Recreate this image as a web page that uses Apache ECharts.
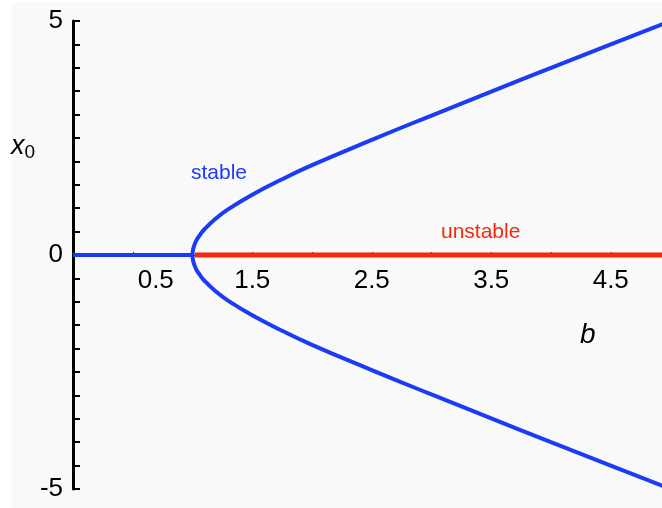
<!DOCTYPE html>
<html>
<head>
<meta charset="utf-8">
<script src="https://cdn.jsdelivr.net/npm/echarts@6/dist/echarts.min.js"></script>
<style>
  html, body { margin: 0; padding: 0; background: #ffffff; }
  #chart { width: 662px; height: 508px; }
</style>
</head>
<body>
<div id="chart"></div>
<script>
// Pitchfork bifurcation: fixed point x0 versus parameter b
const bValues      = [1, 1.003, 1.01, 1.03, 1.06, 1.1, 1.2, 1.3, 1.5, 1.75, 2, 2.5, 3, 3.5, 4, 4.5, 5];
const branchValues = [0, 0.09, 0.17, 0.3, 0.42, 0.55, 0.79, 0.98, 1.29, 1.62, 1.92, 2.46, 2.98, 3.49, 4.0, 4.5, 5.0];
const stableZero   = [[0, 0], [1, 0]];
const unstableZero = [[1.02, 0], [5, 0]];
const xTickLabels  = ['0.5', '1.5', '2.5', '3.5', '4.5'];
const yTickLabels  = ['-5', '0', '5'];

const BLUE = '#1c3bf4';
const RED = '#f42a0c';
const FONT = 'Liberation Sans, Arial, sans-serif';

// One continuous path: lower branch -> vertex -> upper branch
const branchPath = [];
for (let i = bValues.length - 1; i > 0; i--) branchPath.push([bValues[i], -branchValues[i]]);
for (let i = 0; i < bValues.length; i++) branchPath.push([bValues[i], branchValues[i]]);

const chart = echarts.init(document.getElementById('chart'));

function fmtNum(v) {
  return String(Math.round(v * 10) / 10);
}

// plot box: y from 5 (top) to -5 (bottom); x axis sits on x0 = 0
const GRID_TOP = 21, GRID_H = 468;

chart.setOption({
  backgroundColor: '#ffffff',
  animation: false,
  grid: { left: 73, top: GRID_TOP, width: 597.5, height: GRID_H, containLabel: false, outerBoundsMode: 'none' },
  xAxis: {
    type: 'value',
    position: 'bottom',
    offset: -GRID_H / 2,
    min: 0, max: 5, interval: 0.5,
    axisLine: { show: true, onZero: false, lineStyle: { color: '#000', width: 1 } },
    axisTick: { show: true, inside: true, length: 3, lineStyle: { color: '#333', width: 1 } },
    splitLine: { show: false },
    axisLabel: {
      margin: 13,
      fontFamily: FONT,
      fontSize: 26,
      color: '#000',
      showMinLabel: true, showMaxLabel: true,
      formatter: function (v) {
        const s = fmtNum(v);
        if (xTickLabels.indexOf(s) < 0) return '';
        return s === '0.5' ? '{shift|' + s + '}' : s;
      },
      rich: {
        shift: { fontFamily: FONT, fontSize: 26, color: '#000', padding: [0, 0, 0, 46] }
      }
    }
  },
  yAxis: {
    type: 'value',
    min: -5, max: 5, interval: 0.5,
    axisLine: { show: true, onZero: false, lineStyle: { color: '#000', width: 3 } },
    axisTick: { show: true, inside: true, length: 7, lineStyle: { color: '#000', width: 2 } },
    splitLine: { show: false },
    axisLabel: {
      margin: 10,
      fontFamily: FONT,
      fontSize: 26,
      color: '#000',
      showMinLabel: true, showMaxLabel: true,
      formatter: function (v) {
        const s = fmtNum(v);
        return yTickLabels.indexOf(s) >= 0 ? s : '';
      }
    }
  },
  graphic: [
    {
      type: 'rect', z: -10, silent: true,
      shape: { x: 12, y: 2, width: 660, height: 510 },
      style: { fill: '#f9f9f9' }
    },
    {
      type: 'text', left: 11, top: 133, z: 10,
      style: {
        text: '{x|x}{s|0}',
        rich: {
          x: { fontFamily: FONT, fontStyle: 'italic', fontSize: 27, fill: '#000' },
          s: { fontFamily: FONT, fontSize: 19, fill: '#000', padding: [12, 0, 0, 0] }
        }
      }
    },
    {
      type: 'text', left: 580, top: 321, z: 10,
      style: { text: 'b', fontFamily: FONT, fontStyle: 'italic', fontSize: 28, fill: '#000' }
    },
    {
      type: 'text', left: 191, top: 163, z: 10,
      style: { text: 'stable', fontFamily: FONT, fontSize: 21, fill: BLUE }
    },
    {
      type: 'text', left: 441, top: 222, z: 10,
      style: { text: 'unstable', fontFamily: FONT, fontSize: 21, fill: RED }
    }
  ],
  series: [
    {
      type: 'line', data: stableZero, showSymbol: false, z: 3,
      lineStyle: { color: BLUE, width: 4 }
    },
    {
      type: 'line', data: unstableZero, showSymbol: false, z: 3,
      lineStyle: { color: RED, width: 5 }
    },
    {
      type: 'line', data: branchPath, showSymbol: false, smooth: 0.5, z: 4,
      lineStyle: { color: BLUE, width: 4 }
    }
  ]
});
</script>
</body>
</html>
